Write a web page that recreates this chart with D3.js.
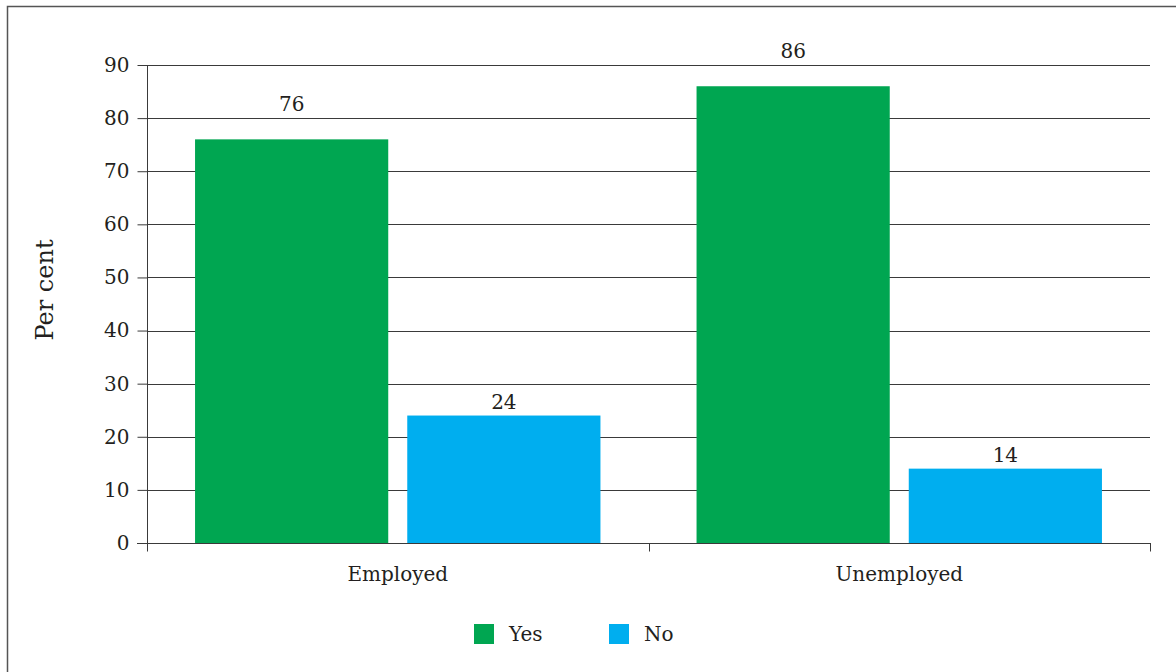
<!DOCTYPE html>
<html><head><meta charset="utf-8">
<script src="https://cdn.jsdelivr.net/npm/d3@7/dist/d3.min.js"></script>
<style>body{margin:0;background:#fff}svg{display:block}text{font-family:"DejaVu Serif",serif;fill:#231f20}</style>
</head><body><svg id="c" width="1176" height="672"></svg>
<script>
const categories = ["Employed", "Unemployed"];
const seriesNames = ["Yes", "No"];
const yesValues = [76, 86];
const noValues = [24, 14];
const yTicks = [0,10,20,30,40,50,60,70,80,90];
const colors = ["#00a651", "#00aeef"];

const svg = d3.select("#c");
const fs = 20;
const labelGap = [28, 7];
// frame
svg.append("path").attr("d","M7.5,680V6.5H1180").attr("fill","none").attr("stroke","#555").attr("stroke-width",1.5);

const L=147, R=1150, T=65, B=543;
const x = d3.scaleBand().domain(categories).range([L,R]).paddingInner(0).paddingOuter(0);
const xi = d3.scaleBand().domain(seriesNames).range([0,x.bandwidth()]).paddingInner(19/212).paddingOuter(48/212);
const y = d3.scaleLinear().domain([0,90]).range([B,T]);

// gridlines
svg.append("g").selectAll("line").data(yTicks.filter(d=>d>0)).join("line")
  .attr("x1",L).attr("x2",R).attr("y1",d=>Math.round(y(d))+0.5).attr("y2",d=>Math.round(y(d))+0.5)
  .attr("stroke","#3a3a3a").attr("stroke-width",1);

const data = categories.map((c,i)=>({c, vals:[yesValues[i], noValues[i]]}));
const g = svg.append("g").selectAll("g").data(data).join("g").attr("transform",d=>`translate(${x(d.c)},0)`);
g.selectAll("rect").data(d=>d.vals.map((v,j)=>({s:seriesNames[j],v,j}))).join("rect")
  .attr("x",d=>xi(d.s)).attr("width",xi.bandwidth()).attr("y",d=>y(d.v)).attr("height",d=>B-y(d.v))
  .attr("fill",d=>colors[d.j]);
g.selectAll("text").data(d=>d.vals.map((v,j)=>({s:seriesNames[j],v,j}))).join("text")
  .attr("x",d=>xi(d.s)+xi.bandwidth()/2).attr("y",d=>y(d.v)-labelGap[d.j]).attr("text-anchor","middle")
  .attr("font-size",fs).text(d=>d.v);

// y axis
const ya = svg.append("g").attr("transform",`translate(${L+0.5},0)`)
  .call(d3.axisLeft(y).tickValues(yTicks).tickSize(10).tickPadding(8).tickFormat(d3.format("d")));
ya.select(".domain").attr("stroke","#3a3a3a").attr("d",`M0,${T}V${B+8}`);
ya.selectAll(".tick line").attr("stroke","#3a3a3a");
ya.selectAll(".tick text").attr("font-size",fs).attr("font-family","DejaVu Serif").attr("fill","#231f20");

// x axis
const xa = svg.append("g").attr("transform",`translate(0,${B+0.5})`);
xa.append("line").attr("x1",L-10).attr("x2",R+1).attr("stroke","#3a3a3a");
xa.selectAll("line.t").data([L, x(categories[1]), R]).join("line").attr("class","t")
  .attr("x1",d=>Math.round(d)+0.5).attr("x2",d=>Math.round(d)+0.5).attr("y1",0).attr("y2",8).attr("stroke","#3a3a3a");
xa.selectAll("text").data(categories).join("text")
  .attr("x",d=>x(d)+x.bandwidth()/2).attr("y",37).attr("text-anchor","middle").attr("font-size",fs).text(d=>d);

// y title
svg.append("text").attr("transform","translate(53,290) rotate(-90)").attr("text-anchor","middle").attr("font-size",24).text("Per cent");

// legend
const leg = svg.append("g");
const lx = [474, 609];
seriesNames.forEach((s,i)=>{
  leg.append("rect").attr("x",lx[i]).attr("y",624).attr("width",20).attr("height",20).attr("fill",colors[i]);
  leg.append("text").attr("x",lx[i]+35).attr("y",641).attr("font-size",fs).text(s);
});
</script></body></html>
